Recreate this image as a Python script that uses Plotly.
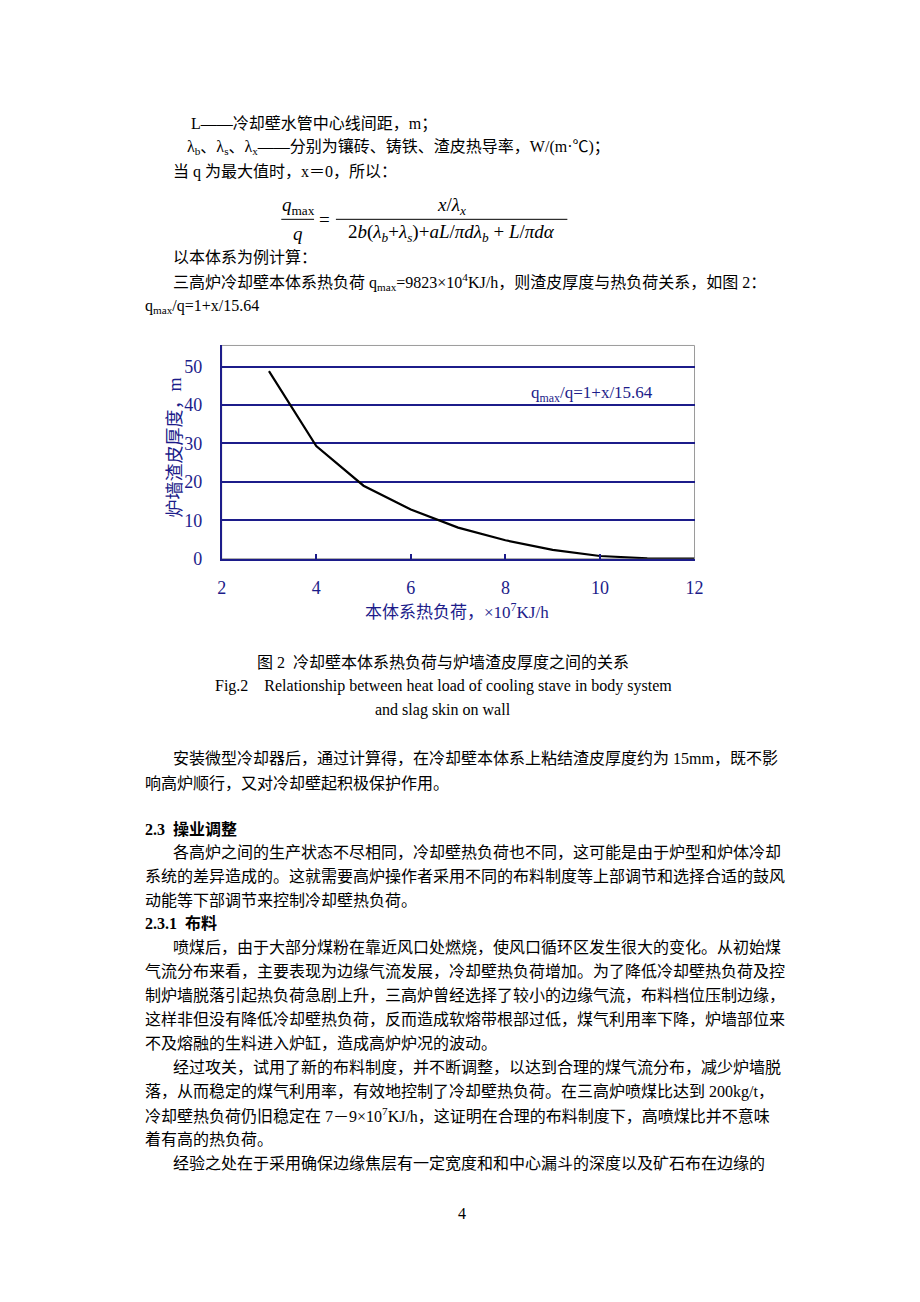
import plotly.graph_objects as go

# chart data
heat_load = [3, 4, 5, 6, 7, 8, 9, 10, 11, 12]          # ×10^7 KJ/h
slag_thickness = [48.8, 29.3, 19.0, 12.8, 8.1, 4.8, 2.3, 0.7, 0.1, 0.0]
x_ticks = [2, 4, 6, 8, 10, 12]
y_ticks = [0, 10, 20, 30, 40, 50]

# page text, (y pixel, x pixel, text, bold)
body_top = [
    (123, 186, "L——冷却壁水管中心线间距，m；", False),
    (147, 182, "λ<sub>b</sub>、λ<sub>s</sub>、λ<sub>x</sub>——分别为镶砖、铸铁、渣皮热导率，W/(m·℃)；", False),
    (172, 168, "当 q 为最大值时，x＝0，所以：", False),
    (257, 168, "以本体系为例计算：", False),
    (282, 168, "三高炉冷却壁本体系热负荷 q<sub>max</sub>=9823×10<sup>4</sup>KJ/h，则渣皮厚度与热负荷关系，如图 2：", False),
    (306, 140, "q<sub>max</sub>/q=1+x/15.64", False),
]
body_bottom = [
    (757, 168, "安装微型冷却器后，通过计算得，在冷却壁本体系上粘结渣皮厚度约为 15mm，既不影", False),
    (782, 140, "响高炉顺行，又对冷却壁起积极保护作用。", False),
    (828, 140, "2.3  操业调整", True),
    (851, 168, "各高炉之间的生产状态不尽相同，冷却壁热负荷也不同，这可能是由于炉型和炉体冷却", False),
    (875, 140, "系统的差异造成的。这就需要高炉操作者采用不同的布料制度等上部调节和选择合适的鼓风", False),
    (899, 140, "动能等下部调节来控制冷却壁热负荷。", False),
    (922, 140, "2.3.1  布料", True),
    (946, 168, "喷煤后，由于大部分煤粉在靠近风口处燃烧，使风口循环区发生很大的变化。从初始煤", False),
    (970, 140, "气流分布来看，主要表现为边缘气流发展，冷却壁热负荷增加。为了降低冷却壁热负荷及控", False),
    (994, 140, "制炉墙脱落引起热负荷急剧上升，三高炉曾经选择了较小的边缘气流，布料档位压制边缘，", False),
    (1018, 140, "这样非但没有降低冷却壁热负荷，反而造成软熔带根部过低，煤气利用率下降，炉墙部位来", False),
    (1042, 140, "不及熔融的生料进入炉缸，造成高炉炉况的波动。", False),
    (1066, 168, "经过攻关，试用了新的布料制度，并不断调整，以达到合理的煤气流分布，减少炉墙脱", False),
    (1090, 140, "落，从而稳定的煤气利用率，有效地控制了冷却壁热负荷。在三高炉喷煤比达到 200kg/t，", False),
    (1114, 140, "冷却壁热负荷仍旧稳定在 7－9×10<sup>7</sup>KJ/h，这证明在合理的布料制度下，高喷煤比并不意味", False),
    (1138, 140, "着有高的热负荷。", False),
    (1162, 168, "经验之处在于采用确保边缘焦层有一定宽度和和中心漏斗的深度以及矿石布在边缘的", False),
]
caption = [
    (661, "图 2  冷却壁本体系热负荷与炉墙渣皮厚度之间的关系"),
    (685, "Fig.2    Relationship between heat load of cooling stave in body system"),
    (709, "and slag skin on wall"),
]

# page body keeps its default 8px margin
OFF = 8
W, H = 920 - 2 * OFF, 1302 - 2 * OFF
S = 1.009  # small correction measured against the reference page
NAVY = "#1c1c8a"
FONT = "Liberation Serif, Noto Sans CJK SC, serif"


def px(x):
    return (x * S - OFF) / W


def py(y):
    return 1 - (y * S - OFF) / H


annotations = []


def txt(x, y, s, size=16, anchor="left", color="black", angle=0):
    annotations.append(dict(
        x=px(x), y=py(y), xref="paper", yref="paper", text=s, showarrow=False,
        xanchor=anchor, yanchor="middle", textangle=angle, borderpad=0,
        font=dict(family=FONT, size=size, color=color),
    ))


for y, x, s, b in body_top + body_bottom:
    txt(x, y, f"<b>{s}</b>" if b else s)
for y, s in caption:
    txt(441, y, s, anchor="center")
txt(460, 1212, "4", anchor="center")

# formula
txt(295, 206, "<i>q</i><sub>max</sub>", size=19, anchor="center")
txt(295, 233, "<i>q</i>", size=19, anchor="center")
txt(322, 219, "=", size=19, anchor="center")
txt(449, 206, "<i>x</i>/<i>λ<sub>x</sub></i>", size=19, anchor="center")
txt(449, 233, "2<i>b</i>(<i>λ<sub>b</sub></i>+<i>λ<sub>s</sub></i>)+<i>aL</i>/<i>πdλ<sub>b</sub></i> + <i>L</i>/<i>πdα</i>",
    size=19, anchor="center")

# chart texts
txt(528, 393, "q<sub>max</sub>/q=1+x/15.64", size=17, color=NAVY)
txt(455, 610, "本体系热负荷，×10<sup>7</sup>KJ/h", size=17, anchor="center", color=NAVY)
txt(171, 447, "炉墙渣皮厚度，m", size=18, anchor="center", color=NAVY, angle=-90)

shapes = [
    dict(type="line", xref="paper", yref="paper", x0=px(278), x1=px(311), y0=py(219), y1=py(219),
         line=dict(color="black", width=1)),
    dict(type="line", xref="paper", yref="paper", x0=px(333), x1=px(566), y0=py(219), y1=py(219),
         line=dict(color="black", width=1)),
    dict(type="rect", xref="x domain", yref="y domain", x0=0, x1=1, y0=0, y1=1,
         line=dict(color="#9a9a9a", width=1), layer="below"),
]

fig = go.Figure()
fig.add_trace(go.Scatter(
    x=heat_load, y=slag_thickness, mode="lines",
    line=dict(color="black", width=2.2), showlegend=False,
))
fig.update_layout(
    width=W, height=H, margin=dict(l=0, r=0, t=0, b=0),
    paper_bgcolor="white", plot_bgcolor="white",
    annotations=annotations, shapes=shapes, showlegend=False,
    xaxis=dict(
        domain=[px(218), px(694)], range=[2, 12], tickvals=x_ticks,
        showgrid=False, zeroline=False, showline=True, linecolor=NAVY, linewidth=1.5,
        ticks="inside", ticklen=5, tickcolor=NAVY, tickwidth=1.5,
        tickfont=dict(family=FONT, size=18, color=NAVY), ticklabelstandoff=12,
    ),
    yaxis=dict(
        domain=[py(558), py(345)], range=[0, 55.5], tickvals=y_ticks,
        showgrid=True, gridcolor=NAVY, gridwidth=1.5, zeroline=False,
        showline=True, linecolor=NAVY, linewidth=1.5, ticks="",
        tickfont=dict(family=FONT, size=18, color=NAVY), ticklabelstandoff=14,
    ),
)
fig.write_html("out.html", config={"displayModeBar": False})
